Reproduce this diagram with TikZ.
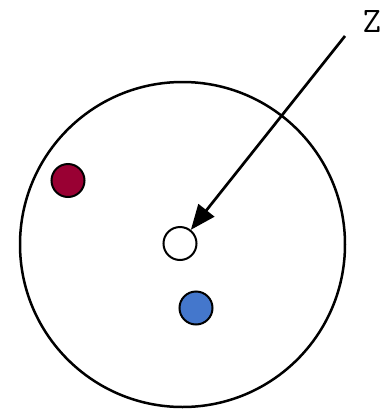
\documentclass[tikz,border=0pt]{standalone}
\usetikzlibrary{arrows.meta}
\definecolor{dotred}{HTML}{990033}
\definecolor{dotblue}{HTML}{4477CC}
\tikzset{
  dot/.style={circle, draw=black, line width=2pt, minimum size=33pt, inner sep=0pt},
  big/.style={circle, draw=black, line width=2.5pt, minimum size=325pt, inner sep=0pt},
  pointer/.style={line width=2.7pt, -{Triangle[length=25pt,width=20pt]}}
}
\begin{document}
\begin{tikzpicture}[x=1pt,y=-1pt]
\useasboundingbox (0,0) rectangle (390,410);
\node[big] (outer) at (182.5,244.5) {};
\node[dot, fill=dotred] (r) at (68,180.5) {};
\node[dot, fill=white] (w) at (180,243.5) {};
\node[dot, fill=dotblue] (b) at (196,308) {};
\node[font=\ttfamily\fontsize{36}{36}\selectfont] (z) at (372,21) {Z};
\coordinate (s) at (345,36);
\draw[pointer] (s) -- (w);
\end{tikzpicture}
\end{document}
